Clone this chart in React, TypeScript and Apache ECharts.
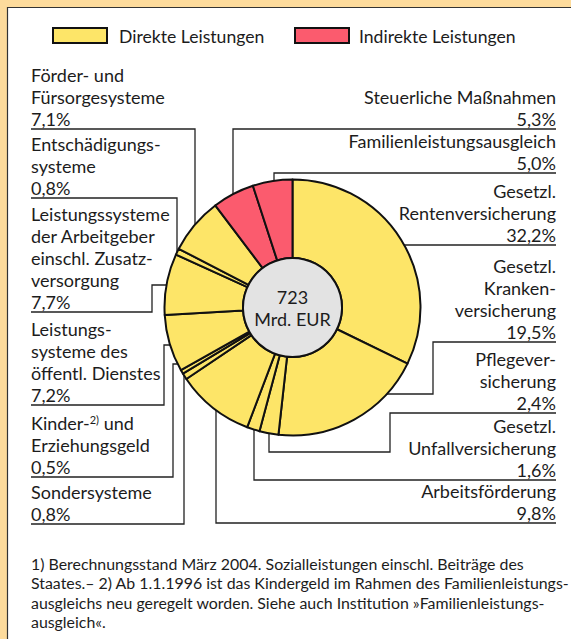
import React, { useEffect, useRef } from "react";
import * as echarts from "echarts";

// ---- data ----
const categories = [
  "Gesetzl. Rentenversicherung",
  "Gesetzl. Krankenversicherung",
  "Pflegeversicherung",
  "Gesetzl. Unfallversicherung",
  "Arbeitsförderung",
  "Sondersysteme",
  "Kinder- und Erziehungsgeld",
  "Leistungssysteme des öffentl. Dienstes",
  "Leistungssysteme der Arbeitgeber einschl. Zusatzversorgung",
  "Entschädigungssysteme",
  "Förder- und Fürsorgesysteme",
  "Steuerliche Maßnahmen",
  "Familienleistungsausgleich",
];
const shares = [32.2, 19.5, 2.4, 1.6, 9.8, 0.8, 0.5, 7.2, 7.7, 0.8, 7.1, 5.3, 5.0];
const kinds = [0, 0, 0, 0, 0, 0, 0, 0, 0, 0, 0, 1, 1]; // 0 direkt, 1 indirekt
const labelNameLines = [
  ["Gesetzl.", "Rentenversicherung"],
  ["Gesetzl.", "Kranken-", "versicherung"],
  ["Pflegever-", "sicherung"],
  ["Gesetzl.", "Unfallversicherung"],
  ["Arbeitsförderung"],
  ["Sondersysteme"],
  ["Kinder-{sup|2)} und", "Erziehungsgeld"],
  ["Leistungs-", "systeme des", "öffentl. Dienstes"],
  ["Leistungssysteme", "der Arbeitgeber", "einschl. Zusatz-", "versorgung"],
  ["Entschädigungs-", "systeme"],
  ["Förder- und", "Fürsorgesysteme"],
  ["Steuerliche Maßnahmen"],
  ["Familienleistungsausgleich"],
];
const legendNames = ["Direkte Leistungen", "Indirekte Leistungen"];
const totalValue = "723";
const totalUnit = "Mrd. EUR";
const footnoteLines = [
  "1) Berechnungsstand März 2004. Sozialleistungen einschl. Beiträge des",
  "Staates.– 2) Ab 1.1.1996 ist das Kindergeld im Rahmen des Familienleistungs-",
  "ausgleichs neu geregelt worden. Siehe auch Institution »Familienleistungs-",
  "ausgleich«.",
];

// ---- layout (annotation positions) ----
const CX = 292.5;
const CY = 307.5;
const R_OUT = 128;
const R_IN = 49.5;
const LEFT_X = 31;
const RIGHT_X = 556;
// side, underline y, route points (after the underline start), end direction
const labelLayout: { side: "l" | "r"; ul: number; route: number[][]; dir: string }[] = [
  { side: "r", ul: 245, route: [], dir: "left" },
  { side: "r", ul: 342, route: [[433, 342], [433, 394]], dir: "left" },
  { side: "r", ul: 413, route: [[390, 413], [390, 452], [269, 452]], dir: "up" },
  { side: "r", ul: 480, route: [[254, 480]], dir: "up" },
  { side: "r", ul: 523, route: [[216, 523]], dir: "up" },
  { side: "l", ul: 524, route: [[184, 524]], dir: "up" },
  { side: "l", ul: 477, route: [[173, 477], [173, 364]], dir: "right" },
  { side: "l", ul: 405, route: [[164, 405], [164, 345]], dir: "right" },
  { side: "l", ul: 312, route: [[152, 312], [152, 285]], dir: "right" },
  { side: "l", ul: 198, route: [[177, 198]], dir: "down" },
  { side: "l", ul: 129, route: [[195, 129]], dir: "down" },
  { side: "r", ul: 129, route: [[233, 129]], dir: "down" },
  { side: "r", ul: 173, route: [[274, 173]], dir: "down" },
];

const COLORS = ["#FDE568", "#FB5B6E"];
const TEXT = "#1c1c1c";
const FONT = "Lato";
const LINE_H = 22;

function fmt(v: number) {
  return v.toFixed(1).replace(".", ",") + "%";
}

function endPoint(p: number[], dir: string) {
  const [x, y] = p;
  if (dir === "down") return [x, CY - Math.sqrt(R_OUT * R_OUT - (x - CX) ** 2)];
  if (dir === "up") return [x, CY + Math.sqrt(R_OUT * R_OUT - (x - CX) ** 2)];
  if (dir === "right") return [CX - Math.sqrt(R_OUT * R_OUT - (y - CY) ** 2), y];
  return [CX + Math.sqrt(R_OUT * R_OUT - (y - CY) ** 2), y];
}

export default function App() {
  const ref = useRef<HTMLDivElement>(null);
  useEffect(() => {
    if (!ref.current) return;
    const chart = echarts.init(ref.current, null, { renderer: "svg" });
    const graphics: any[] = [];

    // frame
    graphics.push({ type: "rect", shape: { x: 0, y: 0, width: 571, height: 7 }, style: { fill: "#FDDB9C" }, silent: true });
    graphics.push({ type: "rect", shape: { x: 0, y: 0, width: 7, height: 639 }, style: { fill: "#FDDB9C" }, silent: true });
    graphics.push({ type: "line", shape: { x1: 7, y1: 7.5, x2: 571, y2: 7.5 }, style: { stroke: "#333", lineWidth: 1.2 }, silent: true });
    graphics.push({ type: "line", shape: { x1: 7.5, y1: 7, x2: 7.5, y2: 639 }, style: { stroke: "#333", lineWidth: 1.2 }, silent: true });

    // legend
    const legendPos = [
      { bx: 53, tx: 119 },
      { bx: 295, tx: 359 },
    ];
    legendNames.forEach((n, i) => {
      graphics.push({
        type: "rect",
        shape: { x: legendPos[i].bx, y: 28, width: 54, height: 15 },
        style: { fill: COLORS[i], stroke: "#111", lineWidth: 2 },
        silent: true,
      });
      graphics.push({
        type: "text",
        x: legendPos[i].tx,
        y: 36,
        style: { text: n, fill: TEXT, fontFamily: FONT, fontSize: 17.6, textVerticalAlign: "middle" },
        silent: true,
      });
    });

    // labels and leaders
    categories.forEach((c, i) => {
      const lay = labelLayout[i];
      const lines = [...labelNameLines[i], fmt(shares[i])];
      const lastCenter = lay.ul - 10.5;
      const x = lay.side === "l" ? LEFT_X : RIGHT_X;
      lines.forEach((ln, j) => {
        const y = lastCenter - (lines.length - 1 - j) * LINE_H;
        graphics.push({
          type: "text",
          x,
          y,
          style: {
            text: ln,
            fill: TEXT,
            fontFamily: FONT,
            fontSize: 18,
            textAlign: lay.side === "l" ? "left" : "right",
            textVerticalAlign: "middle",
            rich: { sup: { fontSize: 11, fontFamily: FONT, fill: TEXT, verticalAlign: "top", lineHeight: 18 } },
          },
          silent: true,
        });
      });
      const pts = [[x, lay.ul], ...lay.route];
      const last = pts[pts.length - 1];
      pts.push(endPoint(last, lay.dir));
      graphics.push({
        type: "polyline",
        shape: { points: pts },
        style: { stroke: "#222", lineWidth: 1.3, fill: "none" },
        silent: true,
      });
    });

    // footnotes
    footnoteLines.forEach((t, i) => {
      graphics.push({
        type: "text",
        x: LEFT_X,
        y: 563 + i * 19.5,
        style: { text: t, fill: TEXT, fontFamily: FONT, fontSize: 15.9, textVerticalAlign: "middle" },
        silent: true,
      });
    });

    chart.setOption({
      animation: false,
      backgroundColor: "#ffffff",
      graphic: graphics,
      series: [
        {
          type: "pie",
          silent: true,
          radius: [R_IN, R_OUT],
          center: [CX, CY],
          startAngle: 90,
          clockwise: true,
          avoidLabelOverlap: false,
          label: { show: false },
          labelLine: { show: false },
          itemStyle: { borderColor: "#111", borderWidth: 2 },
          data: categories.map((c, i) => ({
            name: c,
            value: shares[i],
            itemStyle: { color: COLORS[kinds[i]] },
          })),
        },
        {
          type: "pie",
          silent: true,
          radius: [0, R_IN],
          center: [CX, CY],
          label: {
            show: true,
            position: "center",
            formatter: totalValue + "\n" + totalUnit,
            fontFamily: FONT,
            fontSize: 18,
            lineHeight: 22,
            color: TEXT,
          },
          labelLine: { show: false },
          itemStyle: { color: "#E3E3E3", borderColor: "#111", borderWidth: 2 },
          data: [{ name: totalValue + " " + totalUnit, value: 1 }],
        },
      ],
    });
    return () => chart.dispose();
  }, []);
  return (
    <div
      ref={ref}
      style={{ position: "fixed", left: 0, top: 0, width: 571, height: 639 }}
    />
  );
}
